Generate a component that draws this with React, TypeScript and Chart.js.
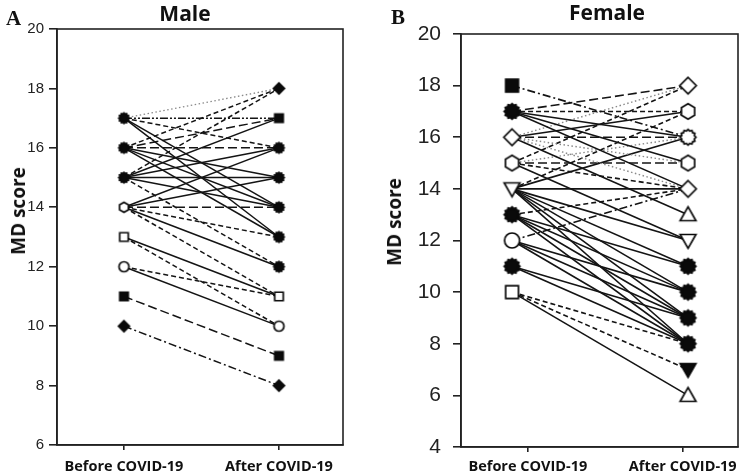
import React, { useEffect, useRef } from 'react';
import { Chart, registerables } from 'chart.js';

Chart.register(...registerables);

// ---------- data ----------
const categories = ['Before COVID-19', 'After COVID-19'];
const maleYTicks = [6, 8, 10, 12, 14, 16, 18, 20];
const femaleYTicks = [4, 6, 8, 10, 12, 14, 16, 18, 20];

const maleBefore = [17, 17, 17, 17, 17, 16, 16, 16, 16, 16, 16, 15, 15, 15, 15, 15, 15, 14, 14, 14, 14, 14, 14, 13, 13, 12, 12, 11, 10];
const maleAfter = [18, 17, 16, 14, 13, 18, 17, 16, 15, 14, 13, 18, 17, 16, 15, 14, 12, 16, 15, 14, 13, 12, 11, 11, 10, 11, 10, 9, 8];
const maleLineStyle = ['dot', 'dashdotdot', 'dash', 'solid', 'solid', 'dash', 'longdash', 'longdash', 'solid', 'solid', 'solid', 'dash', 'solid', 'solid', 'solid', 'solid', 'dash', 'solid', 'solid', 'longdash', 'dash', 'solid', 'dash', 'solid', 'dash', 'dash', 'solid', 'longdash', 'dashdot'];

const femaleBefore = [18, 17, 17, 17, 17, 17, 16, 16, 16, 16, 16, 16, 15, 15, 15, 15, 15, 14, 14, 14, 14, 14, 14, 14, 14, 13, 13, 13, 13, 13, 12, 12, 12, 12, 11, 11, 10, 10, 10];
const femaleAfter = [16, 18, 17, 16, 15, 14, 18, 17, 16, 15, 14, 13, 18, 16, 15, 14, 12, 16, 17, 14, 12, 11, 10, 9, 8, 14, 11, 10, 9, 8, 14, 10, 9, 8, 9, 8, 8, 7, 6];
const femaleLineStyle = ['dashdot', 'longdash', 'dash', 'solid', 'solid', 'solid', 'dot', 'solid', 'longdash', 'dot', 'dot', 'solid', 'dash', 'dot', 'longdash', 'dash', 'solid', 'solid', 'dash', 'solid', 'solid', 'solid', 'solid', 'solid', 'solid', 'dash', 'solid', 'solid', 'solid', 'solid', 'dashdot', 'solid', 'solid', 'solid', 'solid', 'solid', 'dash', 'dash', 'solid'];

// ---------- marker styles (by value) ----------
type Shape = 'gear' | 'hex' | 'square' | 'circle' | 'diamond' | 'triUp' | 'triDown';
type Mk = [Shape, boolean];
const maleBeforeMarkers: Record<number, Mk> = {
  17: ['gear', true], 16: ['gear', true], 15: ['gear', true], 14: ['hex', false],
  13: ['square', false], 12: ['circle', false], 11: ['square', true], 10: ['diamond', true],
};
const maleAfterMarkers: Record<number, Mk> = {
  18: ['diamond', true], 17: ['square', true], 16: ['gear', true], 15: ['gear', true], 14: ['gear', true],
  13: ['gear', true], 12: ['gear', true], 11: ['square', false], 10: ['circle', false], 9: ['square', true], 8: ['diamond', true],
};
const femaleBeforeMarkers: Record<number, Mk> = {
  18: ['square', true], 17: ['gear', true], 16: ['diamond', false], 15: ['hex', false], 14: ['triDown', false],
  13: ['gear', true], 12: ['circle', false], 11: ['gear', true], 10: ['square', false],
};
const femaleAfterMarkers: Record<number, Mk> = {
  18: ['diamond', false], 17: ['hex', false], 16: ['gear', false], 15: ['hex', false], 14: ['diamond', false],
  13: ['triUp', false], 12: ['triDown', false], 11: ['gear', true], 10: ['gear', true], 9: ['gear', true],
  8: ['gear', true], 7: ['triDown', true], 6: ['triUp', false],
};

const dashes: Record<string, number[]> = {
  solid: [],
  dash: [5, 3],
  longdash: [9, 4],
  dot: [1.5, 2.5],
  dashdot: [8, 3, 2, 3],
  dashdotdot: [8, 2, 2, 2, 2, 2],
};

function makeMarker(shape: Shape, filled: boolean, r: number): HTMLCanvasElement {
  const lw = 1.7;
  const size = Math.ceil(2 * r * 1.15 + lw * 2 + 2);
  const c = document.createElement('canvas');
  c.width = size;
  c.height = size;
  const ctx = c.getContext('2d')!;
  ctx.translate(size / 2, size / 2);
  ctx.beginPath();
  const poly = (n: number, rad: number, start: number) => {
    for (let i = 0; i < n; i++) {
      const a = start + (i * 2 * Math.PI) / n;
      const px = rad * Math.cos(a);
      const py = rad * Math.sin(a);
      if (i === 0) ctx.moveTo(px, py);
      else ctx.lineTo(px, py);
    }
  };
  switch (shape) {
    case 'circle':
      ctx.arc(0, 0, r, 0, Math.PI * 2);
      break;
    case 'square':
      ctx.rect(-r * 0.85, -r * 0.85, r * 1.7, r * 1.7);
      break;
    case 'diamond':
      poly(4, r * 1.1, -Math.PI / 2);
      break;
    case 'hex':
      poly(6, r * 1.02, -Math.PI / 2);
      break;
    case 'gear': {
      const n = 12;
      for (let i = 0; i < n * 2; i++) {
        const a = -Math.PI / 2 + (i * Math.PI) / n;
        const rad = i % 2 === 0 ? r * 1.05 : r * 0.86;
        const px = rad * Math.cos(a);
        const py = rad * Math.sin(a);
        if (i === 0) ctx.moveTo(px, py);
        else ctx.lineTo(px, py);
      }
      break;
    }
    case 'triUp':
      ctx.moveTo(0, -r * 1.05);
      ctx.lineTo(r * 1.05, r * 0.8);
      ctx.lineTo(-r * 1.05, r * 0.8);
      break;
    case 'triDown':
      ctx.moveTo(0, r * 1.05);
      ctx.lineTo(r * 1.05, -r * 0.8);
      ctx.lineTo(-r * 1.05, -r * 0.8);
      break;
  }
  ctx.closePath();
  ctx.fillStyle = filled ? '#0a0a0a' : '#fff';
  ctx.fill();
  ctx.lineWidth = lw;
  ctx.strokeStyle = '#0a0a0a';
  ctx.stroke();
  return c;
}

interface PanelOpts {
  before: number[];
  after: number[];
  styles: string[];
  beforeMarkers: Record<number, Mk>;
  afterMarkers: Record<number, Mk>;
  yTicks: number[];
  xMin: number;
  xMax: number;
  tickPos: number[];
  yWidth: number;
  xHeight: number;
  padding: { left: number; right: number; top: number; bottom: number };
  yFontSize: number;
  yPad: number;
  xPad: number;
  markerR: number;
  lineWidth: number;
}

const framePlugin = {
  id: 'frame',
  afterDraw(chart: any) {
    const { ctx, chartArea } = chart;
    const { left, top, right, bottom } = chartArea;
    ctx.save();
    ctx.strokeStyle = '#222';
    ctx.lineWidth = 1.6;
    ctx.strokeRect(left, top, right - left, bottom - top);
    ctx.restore();
  },
};

function buildConfig(o: PanelOpts): any {
  const lineSets = o.before.map((b, i) => ({
    type: 'line',
    data: [
      { x: 0, y: b },
      { x: 1, y: o.after[i] },
    ],
    borderColor: o.styles[i] === 'dot' ? '#8a8a8a' : '#141414',
    borderWidth: o.styles[i] === 'dot' ? o.lineWidth * 0.9 : o.lineWidth,
    borderDash: dashes[o.styles[i]] || [],
    pointRadius: 0,
    fill: false,
    order: 1,
  }));
  const bVals = Array.from(new Set(o.before));
  const aVals = Array.from(new Set(o.after));
  const markerSet = (vals: number[], xv: number, map: Record<number, Mk>) => ({
    type: 'line',
    data: vals.map((v) => ({ x: xv, y: v })),
    showLine: false,
    pointStyle: vals.map((v) => makeMarker(map[v][0], map[v][1], o.markerR)),
    pointRadius: o.markerR,
    order: 0,
  });
  const gridCommon = { drawOnChartArea: false, drawTicks: true, color: '#222', lineWidth: 1.6 };
  return {
    type: 'line',
    data: {
      datasets: [markerSet(bVals, 0, o.beforeMarkers), markerSet(aVals, 1, o.afterMarkers), ...lineSets],
    },
    options: {
      animation: false,
      responsive: false,
      events: [],
      layout: { padding: o.padding },
      plugins: { legend: { display: false }, tooltip: { enabled: false }, title: { display: false } },
      scales: {
        x: {
          type: 'linear',
          min: o.xMin,
          max: o.xMax,
          afterBuildTicks: (s: any) => {
            s.ticks = o.tickPos.map((v) => ({ value: v }));
          },
          afterFit: (s: any) => {
            s.height = o.xHeight;
          },
          ticks: {
            autoSkip: false,
            maxRotation: 0,
            padding: o.xPad,
            color: '#111',
            font: { family: '"Open Sans", sans-serif', size: 14.5, weight: 'bold' },
            callback: (_v: any, idx: number) => categories[idx],
          },
          grid: { ...gridCommon, tickLength: 5 },
          border: { display: true, color: '#222', width: 1.6 },
        },
        y: {
          type: 'linear',
          min: o.yTicks[0],
          max: o.yTicks[o.yTicks.length - 1],
          afterBuildTicks: (s: any) => {
            s.ticks = o.yTicks.map((v) => ({ value: v }));
          },
          afterFit: (s: any) => {
            s.width = o.yWidth;
          },
          ticks: {
            padding: o.yPad,
            color: '#222',
            font: { family: '"Liberation Sans", Arial, sans-serif', size: o.yFontSize },
          },
          grid: { ...gridCommon, tickLength: 8 },
          border: { display: true, color: '#222', width: 1.6 },
        },
      },
    },
    plugins: [framePlugin],
  };
}

function Panel({ opts, left, width }: { opts: PanelOpts; left: number; width: number }) {
  const ref = useRef<HTMLCanvasElement>(null);
  useEffect(() => {
    if (!ref.current) return;
    const chart = new Chart(ref.current, buildConfig(opts));
    return () => chart.destroy();
  }, []);
  return (
    <canvas
      ref={ref}
      width={width}
      height={475}
      style={{ position: 'absolute', left, top: 0, width, height: 475 }}
    />
  );
}

const maleOpts: PanelOpts = {
  before: maleBefore,
  after: maleAfter,
  styles: maleLineStyle,
  beforeMarkers: maleBeforeMarkers,
  afterMarkers: maleAfterMarkers,
  yTicks: maleYTicks,
  xMin: -0.432,
  xMax: 1.413,
  tickPos: [0, 1],
  yWidth: 57,
  xHeight: 30,
  padding: { left: 0, right: 29, top: 29, bottom: 0 },
  yFontSize: 15,
  yPad: 5,
  xPad: 8,
  markerR: 5,
  lineWidth: 1.5,
};

const femaleOpts: PanelOpts = {
  before: femaleBefore,
  after: femaleAfter,
  styles: femaleLineStyle,
  beforeMarkers: femaleBeforeMarkers,
  afterMarkers: femaleAfterMarkers,
  yTicks: femaleYTicks,
  xMin: -0.29,
  xMax: 1.284,
  tickPos: [0.09, 0.97],
  yWidth: 89,
  xHeight: 28,
  padding: { left: 0, right: 11, top: 34, bottom: 0 },
  yFontSize: 21,
  yPad: 12,
  xPad: 6,
  markerR: 7.5,
  lineWidth: 1.6,
};

const labelFont = '"Open Sans", sans-serif';

export default function App() {
  return (
    <div style={{ position: 'fixed', left: 0, top: 0, width: 749, height: 475, background: '#fff', overflow: 'hidden' }}>
      <Panel opts={maleOpts} left={0} width={372} />
      <Panel opts={femaleOpts} left={372} width={377} />
      <div style={{ position: 'absolute', left: 6, top: 6, font: 'bold 21px "Liberation Serif", serif', lineHeight: '24px', color: '#111' }}>A</div>
      <div style={{ position: 'absolute', left: 391, top: 5, font: 'bold 21px "Liberation Serif", serif', lineHeight: '24px', color: '#111' }}>B</div>
      <div style={{ position: 'absolute', left: 185, top: 13, transform: 'translate(-50%, -50%)', font: `bold 21px ${labelFont}`, lineHeight: '24px', color: '#111', whiteSpace: 'nowrap' }}>Male</div>
      <div style={{ position: 'absolute', left: 607, top: 12, transform: 'translate(-50%, -50%)', font: `bold 21px ${labelFont}`, lineHeight: '24px', color: '#111', whiteSpace: 'nowrap' }}>Female</div>
      <div style={{ position: 'absolute', left: 18, top: 211, transform: 'translate(-50%, -50%) rotate(-90deg)', font: `bold 19px ${labelFont}`, lineHeight: '22px', color: '#111', whiteSpace: 'nowrap' }}>MD score</div>
      <div style={{ position: 'absolute', left: 394, top: 222, transform: 'translate(-50%, -50%) rotate(-90deg)', font: `bold 19px ${labelFont}`, lineHeight: '22px', color: '#111', whiteSpace: 'nowrap' }}>MD score</div>
    </div>
  );
}
